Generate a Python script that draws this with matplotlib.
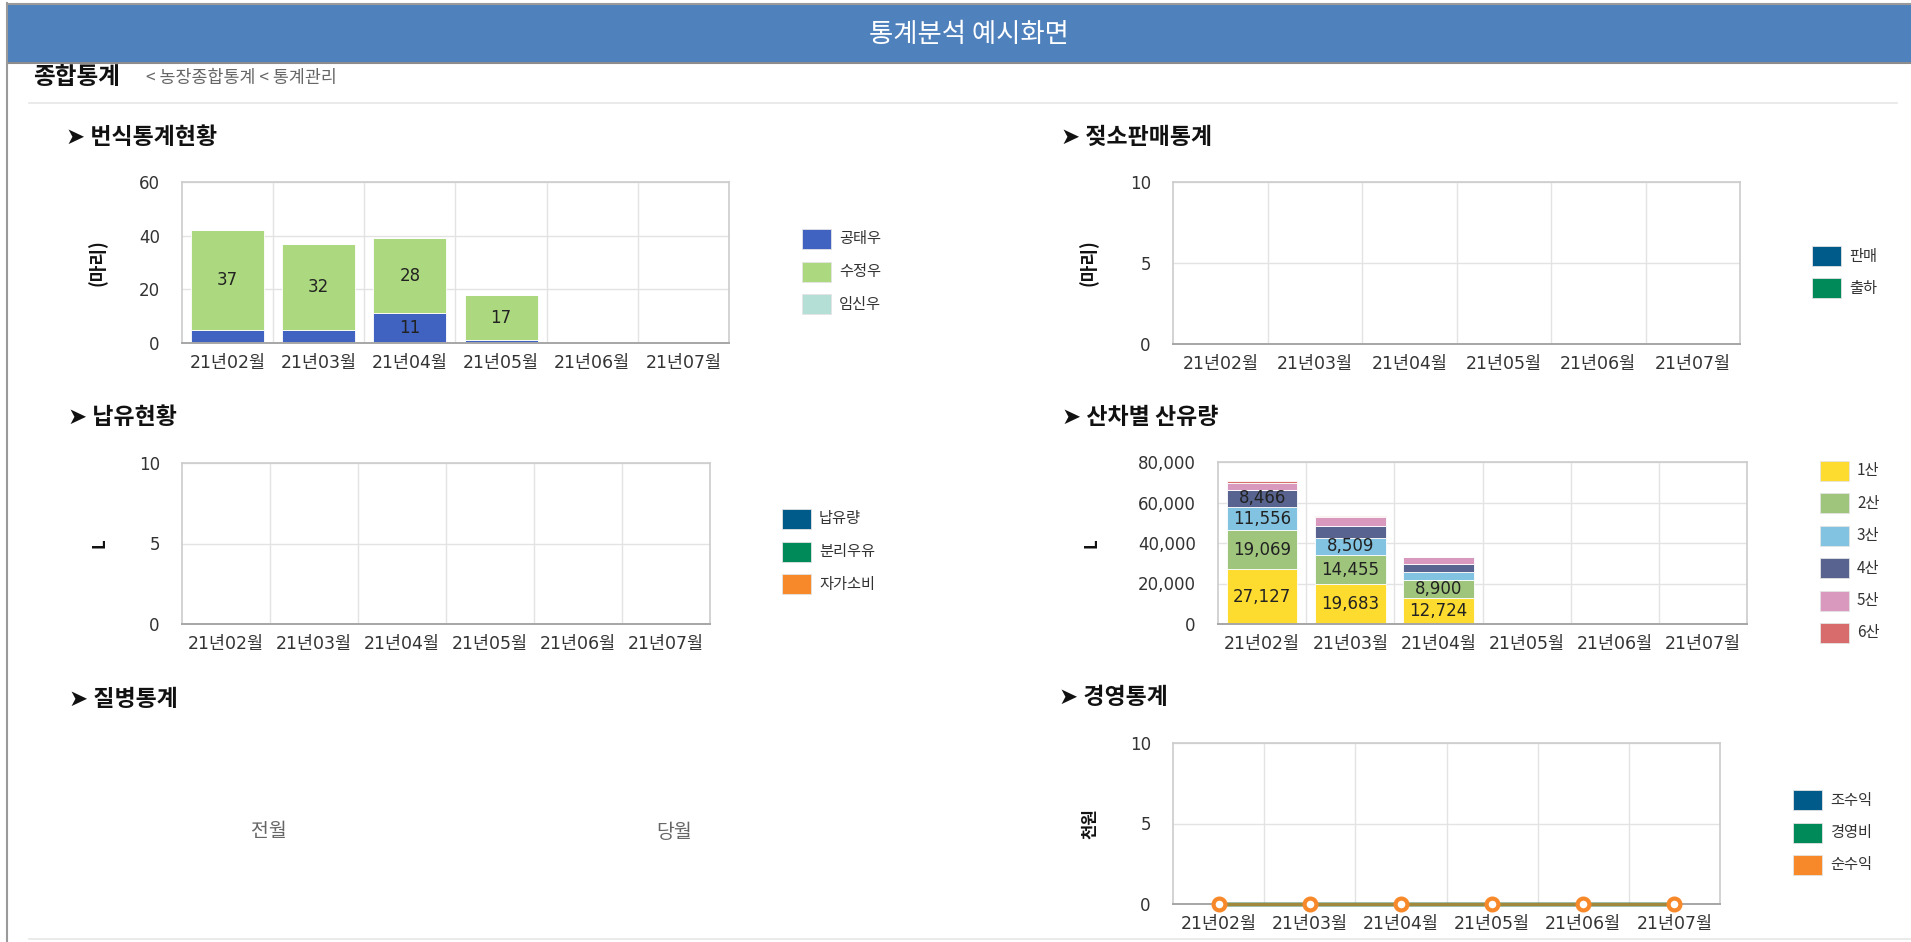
import matplotlib
matplotlib.use("Agg")
import matplotlib.pyplot as plt
from matplotlib.patches import Rectangle
import numpy as np

plt.rcParams['font.family'] = ['DejaVu Sans', 'Noto Sans CJK KR']
KR = ['Noto Sans CJK KR', 'DejaVu Sans']

W, H = 1911, 942

# ---------------- data ----------------
months = ['21년02월', '21년03월', '21년04월', '21년05월', '21년06월', '21년07월']

# 번식통계현황 (마리)
breed_names = ['공태우', '수정우', '임신우']
gongtae = [5, 5, 11, 1, 0, 0]
sujeong = [37, 32, 28, 17, 0, 0]
imsin = [0, 0, 0, 0, 0, 0]

# 젖소판매통계 (마리)
sale_names = ['판매', '출하']
sale = [0, 0, 0, 0, 0, 0]
ship = [0, 0, 0, 0, 0, 0]

# 납유현황 (L)
milk_names = ['납유량', '분리우유', '자가소비']
delivered = [0, 0, 0, 0, 0, 0]
separated = [0, 0, 0, 0, 0, 0]
selfuse = [0, 0, 0, 0, 0, 0]

# 산차별 산유량 (L)
parity_names = ['1산', '2산', '3산', '4산', '5산', '6산']
p1 = [27127, 19683, 12724, 0, 0, 0]
p2 = [19069, 14455, 8900, 0, 0, 0]
p3 = [11556, 8509, 4300, 0, 0, 0]
p4 = [8466, 5800, 3800, 0, 0, 0]
p5 = [3500, 4300, 3300, 0, 0, 0]
p6 = [800, 700, 300, 0, 0, 0]

# 경영통계 (천원)
mgmt_names = ['조수익', '경영비', '순수익']
gross = [0, 0, 0, 0, 0, 0]
cost = [0, 0, 0, 0, 0, 0]
net = [0, 0, 0, 0, 0, 0]

# 질병통계
disease_labels = ['전월', '당월']

# colors
C_HEAD = '#4f81bd'
breed_colors = ['#4062c0', '#acd97f', '#b3dfd6']
sale_colors = ['#005b8a', '#008a5a']
milk_colors = ['#005b8a', '#008a5a', '#f7892a']
parity_colors = ['#fedc2f', '#9fc57d', '#82c3e2', '#58648f', '#d999be', '#d86b6b']
mgmt_colors = ['#005b8a', '#008a5a', '#f7892a']

fig = plt.figure(figsize=(W / 100, H / 100), dpi=100)

# ---------------- background / page decoration ----------------
bg = fig.add_axes([0, 0, 1, 1])
bg.set_xlim(0, W)
bg.set_ylim(H, 0)
bg.axis('off')
bg.add_patch(Rectangle((8, 4), W - 8, 59, facecolor=C_HEAD, edgecolor='none'))
bg.plot([8, W], [3.5, 3.5], color='#9a9a9a', lw=1.5)
bg.plot([8, W], [63, 63], color='#8c8c8c', lw=1.5)
bg.plot([7, 7], [3, H], color='#9a9a9a', lw=1.5)
bg.text(969, 34, '통계분석 예시화면', color='white', fontsize=19, family=KR,
        ha='center', va='center')
bg.text(33, 77, '종합통계', color='#111111', fontsize=17, family=KR,
        fontweight='bold', ha='left', va='center')
bg.text(146, 78, '< 농장종합통계 < 통계관리', color='#666666', fontsize=12.5,
        family=KR, ha='left', va='center')
bg.plot([29, 1897], [103, 103], color='#e6e6e6', lw=1.2)
bg.plot([29, W], [939, 939], color='#e6e6e6', lw=1.2)

section_titles = [(66, 137, '➤ 번식통계현황'), (1061, 138, '➤ 젖소판매통계'),
                  (68, 418, '➤ 납유현황'), (1062, 418, '➤ 산차별 산유량'),
                  (69, 699, '➤ 질병통계'), (1059, 698, '➤ 경영통계')]
for x, y, s in section_titles:
    bg.text(x, y, s, fontsize=16.5, family=KR, fontweight='bold',
            color='#111111', ha='left', va='center')

# 질병통계 (no data)
bg.text(269, 832, disease_labels[0], fontsize=14, family=KR, color='#666666',
        ha='center', va='center')
bg.text(674, 832, disease_labels[1], fontsize=14, family=KR, color='#666666',
        ha='center', va='center')


def px_axes(x0, y0, x1, y1):
    return fig.add_axes([x0 / W, 1 - y1 / H, (x1 - x0) / W, (y1 - y0) / H])


def style(ax, ymax, yticks, ylabel, lab_x, fmt=None, ylab_size=13):
    n = len(months)
    ax.set_xlim(-0.5, n - 0.5)
    ax.set_ylim(0, ymax)
    ax.set_xticks(range(n))
    ax.set_xticklabels(months, fontsize=12.5, color='#333333')
    ax.set_xticks(np.arange(0.5, n - 0.5, 1), minor=True)
    ax.set_yticks(yticks)
    if fmt:
        ax.set_yticklabels([fmt(v) for v in yticks])
    ax.tick_params(axis='x', which='both', length=0, pad=8)
    ax.tick_params(axis='y', length=0, pad=16, labelsize=12, labelcolor='#333333')
    ax.grid(True, which='minor', axis='x', color='#e3e3e3', lw=1)
    ax.grid(True, which='major', axis='y', color='#e3e3e3', lw=1)
    ax.set_axisbelow(True)
    for s in ['top', 'right', 'left']:
        ax.spines[s].set_color('#cccccc')
        ax.spines[s].set_linewidth(1.2)
    ax.spines['bottom'].set_color('#a6a6a6')
    ax.spines['bottom'].set_linewidth(1.4)
    ax.set_ylabel(ylabel, fontsize=ylab_size, fontweight='bold', family=KR,
                  color='#111111')
    x0 = ax.get_position().x0 * W
    wpx = ax.get_position().width * W
    ax.yaxis.set_label_coords((lab_x - x0) / wpx, 0.5)


def add_legend(names, colors, x, yc0, pitch=32.5, w=29, h=20):
    for i, (nm, c) in enumerate(zip(names, colors)):
        yc = yc0 + i * pitch
        bg.add_patch(Rectangle((x, yc - h / 2), w, h, facecolor=c,
                               edgecolor='#e4e4e4', lw=0.6))
        bg.text(x + w + 8, yc, nm, fontsize=11, family=KR, color='#333333',
                ha='left', va='center')


def stacked(ax, series, colors, thresh, fmt):
    x = np.arange(len(months))
    bottom = np.zeros(len(months))
    for vals, c in zip(series, colors):
        v = np.array(vals, dtype=float)
        ax.bar(x, v, bottom=bottom, width=0.8, color=c,
               edgecolor='white', linewidth=0.6)
        for xi, vi, bi in zip(x, v, bottom):
            if vi >= thresh:
                ax.text(xi, bi + vi / 2, fmt(vi), ha='center', va='center',
                        fontsize=12, color='#222222')
        bottom += v


# 1. 번식통계현황
ax1 = px_axes(182, 182, 729, 343)
stacked(ax1, [gongtae, sujeong, imsin], breed_colors, 10, lambda v: f'{int(v)}')
style(ax1, 60, [0, 20, 40, 60], '(마리)', 108)
add_legend(breed_names, breed_colors, 802, 239)

# 2. 젖소판매통계
ax2 = px_axes(1173, 182, 1740, 344)
stacked(ax2, [sale, ship], sale_colors, 1, lambda v: f'{int(v)}')
style(ax2, 10, [0, 5, 10], '(마리)', 1099)
add_legend(sale_names, sale_colors, 1812, 256, pitch=32)

# 3. 납유현황
ax3 = px_axes(182, 463, 710, 624)
stacked(ax3, [delivered, separated, selfuse], milk_colors, 1, lambda v: f'{int(v)}')
style(ax3, 10, [0, 5, 10], 'L', 109, ylab_size=12)
add_legend(milk_names, milk_colors, 782, 519)

# 4. 산차별 산유량
ax4 = px_axes(1218, 462, 1747, 624)
stacked(ax4, [p1, p2, p3, p4, p5, p6], parity_colors, 7000, lambda v: f'{int(v):,}')
style(ax4, 80000, [0, 20000, 40000, 60000, 80000], 'L', 1101,
      fmt=lambda v: f'{int(v):,}', ylab_size=12)
add_legend(parity_names, parity_colors, 1820, 471, pitch=32.4)

# 6. 경영통계
ax6 = px_axes(1173, 743, 1720, 904)
xs = np.arange(len(months))
ax6.plot(xs, gross, color=mgmt_colors[0], lw=2.5, zorder=3, clip_on=False)
ax6.plot(xs, cost, color=mgmt_colors[1], lw=2.5, zorder=3, clip_on=False)
ax6.plot(xs, net, color=mgmt_colors[2], lw=2.5, alpha=0.65, zorder=4, clip_on=False)
ax6.plot(xs, net, linestyle='none', zorder=5, clip_on=False,
         marker='o', markersize=8.5, markerfacecolor='white',
         markeredgecolor=mgmt_colors[2], markeredgewidth=3)
style(ax6, 10, [0, 5, 10], '천원', 1099, ylab_size=12)
add_legend(mgmt_names, mgmt_colors, 1793, 800)

fig.savefig('out.png', dpi=100)
